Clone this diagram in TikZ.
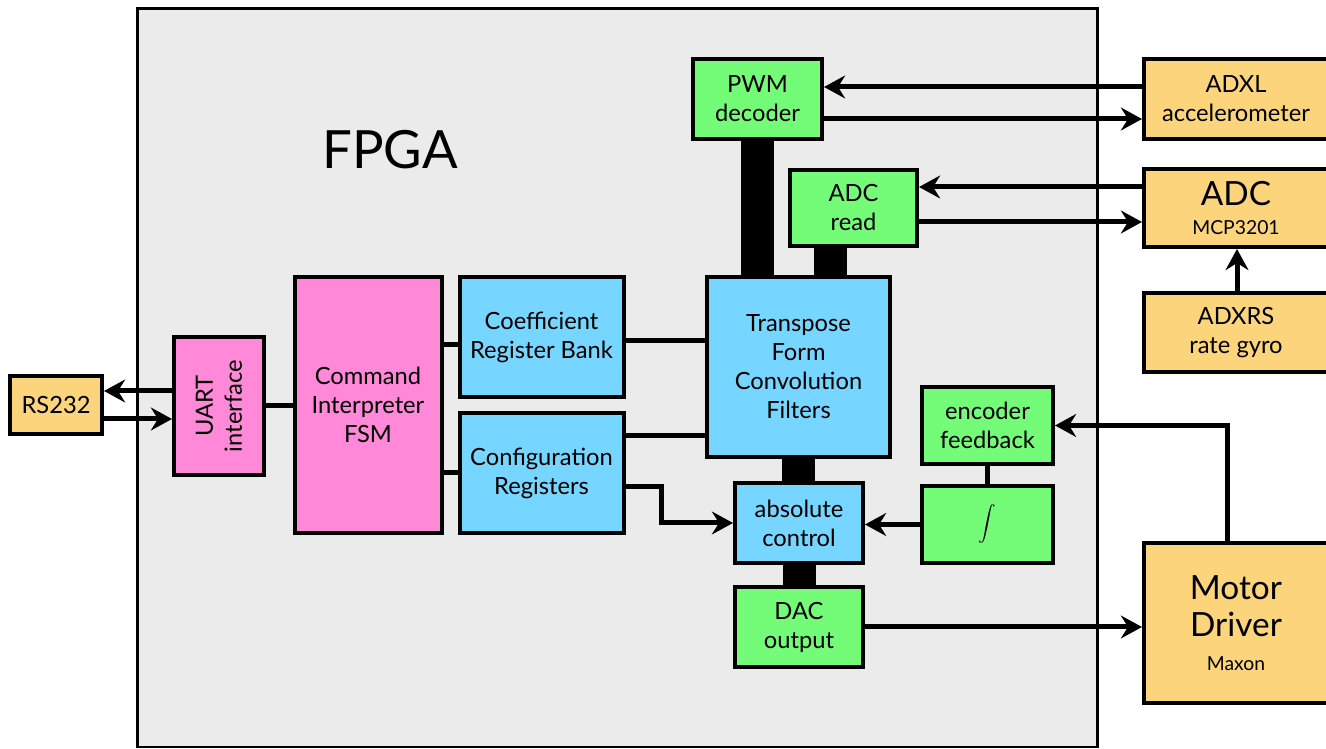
\documentclass[tikz,border=0pt]{standalone}
\usepackage{fontspec}
\setmainfont{Lato}
\usetikzlibrary{arrows.meta,calc}
\pgfdeclarelayer{frame}
\pgfdeclarelayer{buses}
\pgfsetlayers{frame,buses,main}
\definecolor{orangebox}{HTML}{FCD47C}
\definecolor{pinkbox}{HTML}{FF88D8}
\definecolor{bluebox}{HTML}{76D6FF}
\definecolor{greenbox}{HTML}{74FB78}
\definecolor{fpgagray}{HTML}{EBEBEB}
\tikzset{
  blk/.style={draw=black, line width=0.08cm, align=center, inner sep=0pt,
    font=\fontsize{13.5}{16.5}\selectfont},
  ext/.style={blk, fill=orangebox},
  pnk/.style={blk, fill=pinkbox},
  blu/.style={blk, fill=bluebox},
  grn/.style={blk, fill=greenbox},
  wire/.style={line width=0.1cm},
  arr/.style={wire, -{Stealth[length=12pt,width=13pt,inset=4pt]}},
  bus/.style={line width=0.66cm}
}
\begin{document}
\begin{tikzpicture}[x=0.02cm,y=-0.02cm]
\useasboundingbox (0,0) rectangle (1326,749);
% FPGA frame
\begin{pgfonlayer}{frame}
\draw[fill=fpgagray, line width=0.06cm] (137,9) rectangle (1097,747);
\end{pgfonlayer}
\node[font=\fontsize{30}{36}\selectfont] (fpga) at (390,150) {FPGA};

% blocks
\node[grn, minimum width=129*0.02cm, minimum height=80*0.02cm] (pwm) at (757.5,99) {PWM\\decoder};
\node[grn, minimum width=127*0.02cm, minimum height=76*0.02cm] (adcr) at (853.5,208) {ADC\\read};
\node[blu, minimum width=183*0.02cm, minimum height=180*0.02cm] (tf) at (798.5,367) {Transpose\\Form\\Convolution\\Filters};
\node[blu, minimum width=128*0.02cm, minimum height=80*0.02cm] (absc) at (799,523) {absolute\\control};
\node[grn, minimum width=128*0.02cm, minimum height=80*0.02cm] (dac) at (799,627) {DAC\\output};

\node[ext, minimum width=92*0.02cm, minimum height=58*0.02cm] (rs) at (56,405) {RS232};
\node[pnk, minimum width=90*0.02cm, minimum height=138*0.02cm] (uart) at (219,406) {};
\node[rotate=90, align=center, font=\fontsize{13.5}{16.5}\selectfont] (uartlbl) at (uart.center) {UART\\interface};
\node[pnk, minimum width=147*0.02cm, minimum height=256*0.02cm] (cmd) at (368,405) {Command\\Interpreter\\FSM};
\node[blu, minimum width=164*0.02cm, minimum height=120*0.02cm] (coeff) at (541.5,337) {Coefficient\\Register Bank};
\node[blu, minimum width=164*0.02cm, minimum height=120*0.02cm] (config) at (541.5,473) {Configuration\\Registers};
\node[grn, minimum width=131*0.02cm, minimum height=77*0.02cm] (enc) at (987.5,425.5) {encoder\\feedback};
\node[grn, minimum width=131*0.02cm, minimum height=77*0.02cm, font=\fontsize{22}{24}\selectfont] (integ) at (987.5,524.5) {$\displaystyle\int$};

\node[ext, minimum width=184*0.02cm, minimum height=80*0.02cm] (adxl) at (1236,99) {ADXL\\accelerometer};
\node[ext, minimum width=184*0.02cm, minimum height=78*0.02cm] (adc) at (1236,208) {{\fontsize{19}{20}\selectfont ADC}\\{\fontsize{11}{13}\selectfont MCP3201}};
\node[ext, minimum width=184*0.02cm, minimum height=79*0.02cm] (gyro) at (1236,332.5) {ADXRS\\rate gyro};
\node[ext, minimum width=184*0.02cm, minimum height=160*0.02cm, font=\fontsize{19}{21}\selectfont] (motor) at (1236,623) {Motor\\Driver\\[-2pt]{\fontsize{11}{13}\selectfont Maxon}};

% buses (behind blocks)
\begin{pgfonlayer}{buses}
\draw[bus] (pwm.south) -- (pwm.south |- tf.north);
\draw[bus] ($(adcr.south)+(-23,0)$) -- ($(adcr.south |- tf.north)+(-23,0)$);
\draw[bus] (tf.south) -- (tf.south |- absc.north);
\draw[bus] (absc.south) -- (dac.north);
\end{pgfonlayer}

% connectors
\draw[arr] ($(uart.west)+(0,-15)$) -- ($(rs.east)+(0,-14)$);
\draw[arr] ($(rs.east)+(0,14)$) -- ($(uart.west)+(0,13)$);
\draw[wire] (uart.east) -- (uart.east -| cmd.west);
\draw[wire] ($(cmd.east)+(0,-60)$) -- ($(coeff.west)+(0,8)$);
\draw[wire] (config.west) -- (config.west -| cmd.east);
\draw[wire] ($(coeff.east)+(0,4)$) -- ($(coeff.east -| tf.west)+(0,4)$);
\draw[wire] ($(config.east)+(0,-37)$) -- ($(config.east -| tf.west)+(0,-37)$);
\draw[arr] ($(config.east)+(0,14)$) -- ++(36,0) |- (absc.west);
\draw[arr] (integ.west) -- (integ.west -| absc.east);
\draw[wire] (enc.south) -- (integ.north);
\draw[arr] ($(motor.north)+(-9,0)$) |- (enc.east);
\draw[arr] (dac.east) -- (dac.east -| motor.west);
\draw[arr] ($(adxl.west)+(0,-12)$) -- ($(pwm.east)+(0,-12)$);
\draw[arr] ($(pwm.east)+(0,20)$) -- ($(adxl.west)+(0,20)$);
\draw[arr] ($(adc.west)+(0,-21)$) -- ($(adcr.east)+(0,-21)$);
\draw[arr] ($(adcr.east)+(0,14)$) -- ($(adc.west)+(0,14)$);
\draw[arr] ($(gyro.north)+(1,0)$) -- ($(adc.south)+(1,0)$);
\end{tikzpicture}
\end{document}
